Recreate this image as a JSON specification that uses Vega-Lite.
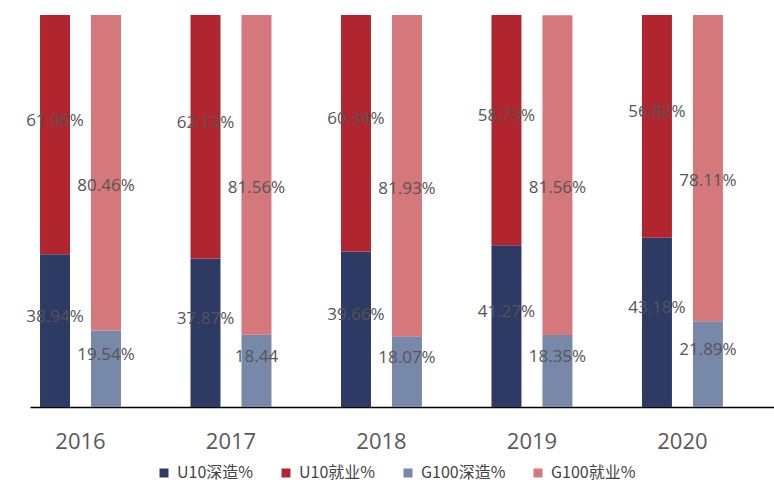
{
  "$schema": "https://vega.github.io/schema/vega-lite/v6.json",
  "width": 744,
  "height": 392,
  "autosize": {"type": "none"},
  "padding": {"left": 30, "top": 15, "right": 0, "bottom": 76},
  "background": "#ffffff",
  "config": {"view": {"stroke": null}},
  "data": {
    "values": [
      {"year": "2016", "group": "U10", "series": "U10深造%", "order": 1, "value": 38.94, "label": "38.94%"},
      {"year": "2016", "group": "U10", "series": "U10就业%", "order": 2, "value": 61.06, "label": "61.06%"},
      {"year": "2016", "group": "G100", "series": "G100深造%", "order": 1, "value": 19.54, "label": "19.54%"},
      {"year": "2016", "group": "G100", "series": "G100就业%", "order": 2, "value": 80.46, "label": "80.46%"},
      {"year": "2017", "group": "U10", "series": "U10深造%", "order": 1, "value": 37.87, "label": "37.87%"},
      {"year": "2017", "group": "U10", "series": "U10就业%", "order": 2, "value": 62.13, "label": "62.13%"},
      {"year": "2017", "group": "G100", "series": "G100深造%", "order": 1, "value": 18.44, "label": "18.44"},
      {"year": "2017", "group": "G100", "series": "G100就业%", "order": 2, "value": 81.56, "label": "81.56%"},
      {"year": "2018", "group": "U10", "series": "U10深造%", "order": 1, "value": 39.66, "label": "39.66%"},
      {"year": "2018", "group": "U10", "series": "U10就业%", "order": 2, "value": 60.34, "label": "60.34%"},
      {"year": "2018", "group": "G100", "series": "G100深造%", "order": 1, "value": 18.07, "label": "18.07%"},
      {"year": "2018", "group": "G100", "series": "G100就业%", "order": 2, "value": 81.93, "label": "81.93%"},
      {"year": "2019", "group": "U10", "series": "U10深造%", "order": 1, "value": 41.27, "label": "41.27%"},
      {"year": "2019", "group": "U10", "series": "U10就业%", "order": 2, "value": 58.73, "label": "58.73%"},
      {"year": "2019", "group": "G100", "series": "G100深造%", "order": 1, "value": 18.35, "label": "18.35%"},
      {"year": "2019", "group": "G100", "series": "G100就业%", "order": 2, "value": 81.56, "label": "81.56%"},
      {"year": "2020", "group": "U10", "series": "U10深造%", "order": 1, "value": 43.18, "label": "43.18%"},
      {"year": "2020", "group": "U10", "series": "U10就业%", "order": 2, "value": 56.82, "label": "56.82%"},
      {"year": "2020", "group": "G100", "series": "G100深造%", "order": 1, "value": 21.89, "label": "21.89%"},
      {"year": "2020", "group": "G100", "series": "G100就业%", "order": 2, "value": 78.11, "label": "78.11%"}
    ]
  },
  "transform": [
    {"stack": "value", "groupby": ["year", "group"], "sort": [{"field": "order", "order": "ascending"}], "as": ["v0", "v1"]},
    {"calculate": "(datum.v0 + datum.v1) / 2", "as": "mid"}
  ],
  "encoding": {
    "x": {
      "field": "year", "type": "nominal",
      "scale": {"paddingInner": 0.462, "paddingOuter": 0.203, "align": 0.164},
      "axis": {
        "title": null, "ticks": false, "tickSize": 0, "labelAngle": 0,
        "labelPadding": 24, "labelFontSize": 22, "labelFont": "Open Sans",
        "labelColor": "#595959", "domainColor": "#000000", "domainWidth": 1.5
      }
    },
    "xOffset": {
      "field": "group", "type": "nominal",
      "scale": {"domain": ["U10", "G100"], "paddingInner": 0.412, "paddingOuter": 0}
    }
  },
  "layer": [
    {
      "mark": {"type": "bar"},
      "encoding": {
        "y": {"field": "v0", "type": "quantitative", "scale": {"domain": [0, 100]}, "axis": null},
        "y2": {"field": "v1"},
        "color": {
          "field": "series", "type": "nominal",
          "scale": {
            "domain": ["U10深造%", "U10就业%", "G100深造%", "G100就业%"],
            "range": ["#2c3a64", "#b1262e", "#7888a8", "#d4787c"]
          },
          "legend": {
            "title": null, "orient": "none", "direction": "horizontal",
            "legendX": 126, "legendY": 450, "padding": 0,
            "symbolType": "square", "symbolSize": 81, "symbolStrokeWidth": 0,
            "labelFont": "Noto Sans CJK SC", "labelFontSize": 16, "labelColor": "#444444",
            "labelOffset": 5, "columnPadding": 24, "labelLimit": 200
          }
        }
      }
    },
    {
      "transform": [{"filter": "datum.series != 'G100就业%'"}],
      "mark": {"type": "text", "font": "Open Sans", "fontSize": 17, "color": "#555555", "dy": -14},
      "encoding": {
        "y": {"field": "mid", "type": "quantitative"},
        "text": {"field": "label"}
      }
    },
    {
      "transform": [{"filter": "datum.series == 'G100就业%'"}],
      "mark": {"type": "text", "font": "Open Sans", "fontSize": 17, "color": "#555555", "dy": 13},
      "encoding": {
        "y": {"field": "mid", "type": "quantitative"},
        "text": {"field": "label"}
      }
    }
  ]
}
